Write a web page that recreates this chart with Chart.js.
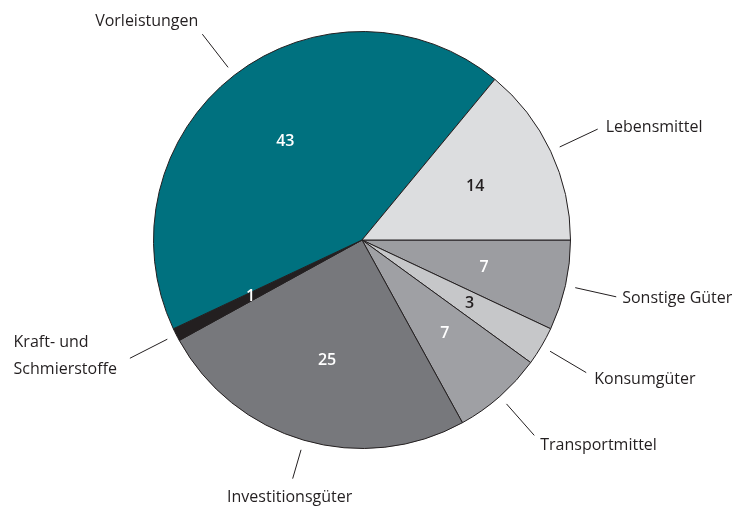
<!DOCTYPE html>
<html>
<head>
<meta charset="utf-8">
<script src="https://cdn.jsdelivr.net/npm/chart.js@4"></script>
<style>
  html, body { margin: 0; padding: 0; background: #fff; }
  #wrap { width: 734px; height: 507px; }
</style>
</head>
<body>
<div id="wrap"><canvas id="pieChart"></canvas></div>
<script>
// Data (clockwise from 3 o'clock)
const categories = ["Sonstige Güter", "Konsumgüter", "Transportmittel", "Investitionsgüter", "Kraft- und Schmierstoffe", "Vorleistungen", "Lebensmittel"];
const shares = [7, 3, 7, 25, 1, 43, 14];

// Styles
const sliceColors = ["#9c9da1", "#c6c7c9", "#9fa0a4", "#77787c", "#231f20", "#00717f", "#dcdddf"];
const valueColors = ["#ffffff", "#231f20", "#ffffff", "#ffffff", "#ffffff", "#ffffff", "#231f20"];
// label text offset from end of leader line, alignment
const labelPlace = [
    { dx: 6, dy: 2, align: "left" },
    { dx: 8, dy: 7, align: "left" },
    { dx: 6, dy: 10, align: "left" },
    { dx: -3, dy: 19, align: "center" },
    { dx: -13, dy: 0, align: "block" },
    { dx: -4, dy: -13, align: "right" },
    { dx: 8, dy: -2, align: "left" }
];
const fontFamily = "'Open Sans', 'Noto Sans', sans-serif";

// Labels + leader lines
const pieLabels = {
    id: "pieLabels",
    afterDatasetsDraw(chart) {
        const ctx = chart.ctx;
        const arcs = chart.getDatasetMeta(0).data;
        arcs.forEach((arc, i) => {
            const mid = (arc.startAngle + arc.endAngle) / 2;
            const cos = Math.cos(mid), sin = Math.sin(mid);
            const r = arc.outerRadius;

            // value inside slice
            ctx.save();
            ctx.font = "600 16px " + fontFamily;
            ctx.fillStyle = valueColors[i];
            ctx.textAlign = "center";
            ctx.textBaseline = "middle";
            ctx.fillText(String(shares[i]), arc.x + cos * r * 0.6, arc.y + sin * r * 0.6);

            // leader line
            const x1 = arc.x + cos * (r + 10), y1 = arc.y + sin * (r + 10);
            const len = i === 3 ? 40 : 52;
            const x2 = arc.x + cos * (r + len), y2 = arc.y + sin * (r + len);
            ctx.strokeStyle = "#231f20";
            ctx.lineWidth = 1;
            ctx.beginPath();
            ctx.moveTo(x1, y1);
            ctx.lineTo(x2, y2);
            ctx.stroke();

            // category label
            const p = labelPlace[i];
            ctx.font = "16px " + fontFamily;
            ctx.fillStyle = "#231f20";
            ctx.textBaseline = "middle";
            if (p.align === "block") {
                const lines = ["Kraft- und", "Schmierstoffe"];
                const w = Math.max(...lines.map(l => ctx.measureText(l).width));
                ctx.textAlign = "left";
                lines.forEach((l, k) => {
                    ctx.fillText(l, x2 + p.dx - w, y2 - 16 + k * 27);
                });
            } else {
                ctx.textAlign = p.align;
                ctx.fillText(categories[i], x2 + p.dx, y2 + p.dy);
            }
            ctx.restore();
        });
    }
};

new Chart(document.getElementById("pieChart"), {
    type: "pie",
    data: {
        labels: categories,
        datasets: [{
            data: shares,
            backgroundColor: sliceColors,
            borderColor: "#231f20",
            borderWidth: 1
        }]
    },
    options: {
        responsive: true,
        maintainAspectRatio: false,
        animation: false,
        rotation: 90,
        layout: {
            padding: { top: 31, bottom: 58, left: 100, right: 110 }
        },
        plugins: {
            legend: { display: false },
            tooltip: { enabled: false }
        }
    },
    plugins: [pieLabels]
});
</script>
</body>
</html>
